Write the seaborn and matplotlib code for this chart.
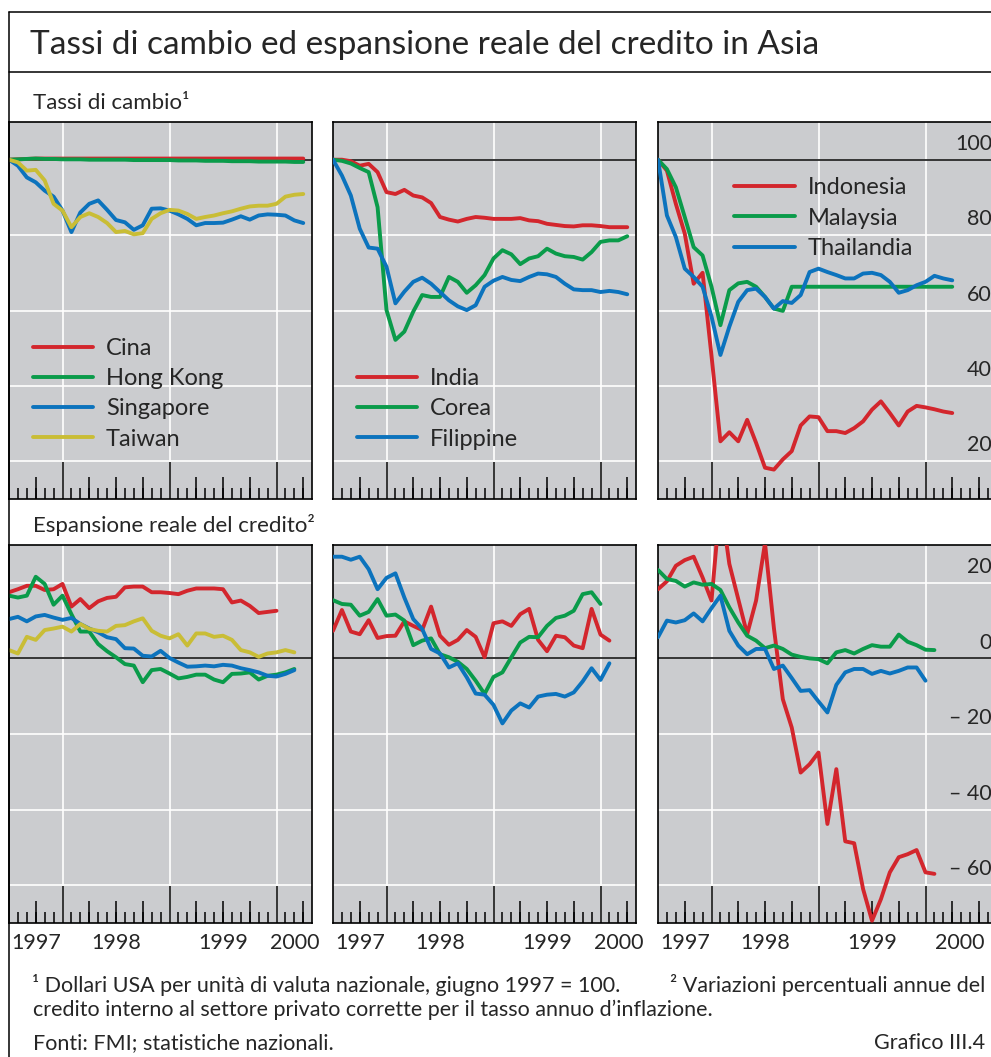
import numpy as np
import pandas as pd
import seaborn as sns
import matplotlib.pyplot as plt
from matplotlib.lines import Line2D
from matplotlib.transforms import blended_transform_factory as blend

sns.set_style("darkgrid", {"axes.facecolor": "#cbcccf", "grid.color": "white"})
plt.rcParams["font.family"] = ["Lato", "DejaVu Sans"]

START = 1997.5  # giugno 1997, primo dato mensile

# ---- Tassi di cambio (giugno 1997 = 100), dati mensili ----
cina_fx = [100.0, 100.1, 100.2, 100.3, 100.3, 100.3, 100.3, 100.3, 100.3, 100.3, 100.3, 100.3,
           100.3, 100.3, 100.3, 100.3, 100.3, 100.3, 100.3, 100.3, 100.3, 100.3, 100.3, 100.3,
           100.3, 100.3, 100.3, 100.3, 100.3, 100.3, 100.3, 100.3, 100.3, 100.3]
hk_fx = [100.0, 100.1, 100.2, 100.3, 100.2, 100.2, 100.1, 100.1, 100.1, 100.0, 100.0, 100.0,
         100.0, 100.0, 99.9, 99.9, 99.9, 99.9, 99.9, 99.8, 99.8, 99.8, 99.7, 99.7,
         99.7, 99.6, 99.6, 99.6, 99.5, 99.5, 99.5, 99.5, 99.4, 99.4]
sing_fx = [100, 98.4, 95.3, 94.0, 91.8, 90.2, 86.5, 80.8, 86.0, 88.3, 89.2, 86.7,
           84.0, 83.4, 81.4, 82.6, 87.0, 87.1, 86.5, 85.5, 84.3, 82.6, 83.2, 83.2,
           83.3, 84.1, 85.0, 84.1, 85.2, 85.5, 85.4, 85.2, 83.9, 83.2]
taiwan_fx = [100, 99.3, 97.1, 97.3, 94.5, 88.3, 86.5, 82.1, 84.8, 85.8, 84.8, 83.2,
             80.8, 81.1, 80.2, 80.5, 84.3, 85.8, 86.7, 86.5, 85.6, 84.3, 84.8, 85.2,
             85.8, 86.3, 87.0, 87.6, 87.8, 87.8, 88.3, 90.2, 90.7, 90.9]
india_fx = [100, 100, 99.6, 98.4, 98.9, 96.7, 91.4, 90.9, 92.0, 90.5, 90.0, 88.5,
            84.8, 84.1, 83.6, 84.3, 84.8, 84.6, 84.3, 84.3, 84.3, 84.5, 83.9, 83.7,
            83.0, 82.7, 82.4, 82.3, 82.6, 82.6, 82.4, 82.1, 82.1, 82.1]
corea_fx = [100, 99.7, 99.0, 97.8, 96.7, 87.4, 60.1, 52.2, 54.4, 59.7, 64.1, 63.6,
            63.6, 68.9, 67.6, 64.7, 66.7, 69.4, 73.8, 76.0, 74.9, 72.3, 73.8, 74.4,
            76.4, 75.1, 74.4, 74.2, 73.5, 75.5, 78.2, 78.6, 78.6, 79.7]
filip_fx = [100, 95.8, 90.5, 81.7, 76.7, 76.4, 71.6, 61.9, 65.0, 67.6, 68.7, 67.1,
            64.9, 62.7, 61.1, 60.1, 61.4, 66.3, 67.9, 68.9, 68.1, 67.8, 68.9, 69.8,
            69.6, 68.9, 67.1, 65.6, 65.4, 65.4, 64.9, 65.2, 64.9, 64.3]
indo_fx = [100, 97.1, 88.3, 80.4, 67.1, 70.0, 48.0, 25.3, 27.7, 25.3, 31.0, 24.9,
           18.3, 17.8, 20.5, 22.7, 29.5, 31.9, 31.7, 28.0, 28.0, 27.5, 28.8, 30.6,
           33.7, 35.9, 32.8, 29.5, 33.2, 34.7, 34.3, 33.8, 33.2, 32.8]
malay_fx = [100, 97.5, 92.7, 84.8, 76.8, 74.6, 66.3, 56.1, 65.4, 67.2, 67.6, 66.3,
            63.6, 60.5, 59.9, 66.3, 66.3, 66.3, 66.3, 66.3, 66.3, 66.3, 66.3, 66.3,
            66.3, 66.3, 66.3, 66.3, 66.3, 66.3, 66.3, 66.3, 66.3, 66.3]
thai_fx = [100, 85.2, 79.5, 71.1, 68.9, 66.3, 58.4, 48.2, 55.7, 62.3, 65.4, 65.8,
           63.6, 60.5, 62.5, 62.0, 64.1, 70.2, 71.1, 70.2, 69.4, 68.5, 68.5, 69.8,
           70.0, 69.4, 67.6, 64.7, 65.4, 66.7, 67.6, 69.2, 68.5, 68.0]

# ---- Espansione reale del credito (variazioni % annue) ----
cina_cr = [17.5, 18.3, 19.2, 19.2, 18.1, 18.3, 19.7, 13.7, 15.7, 13.3, 15.1, 16.0,
           16.3, 18.8, 19.0, 19.0, 17.5, 17.5, 17.3, 17.0, 17.9, 18.5, 18.5, 18.5,
           18.3, 14.8, 15.3, 13.9, 12.0, 12.3, 12.6]
hk_cr = [16.6, 16.1, 16.6, 21.6, 19.7, 14.2, 16.6, 11.7, 7.1, 7.1, 3.8, 1.9,
         0.3, -1.5, -1.9, -6.3, -3.1, -2.8, -4.0, -5.3, -4.9, -4.3, -4.3, -5.6,
         -6.3, -4.1, -4.0, -3.7, -5.6, -4.6, -4.3, -3.7, -2.8]
sing_cr = [10.4, 11.0, 9.8, 11.1, 11.5, 10.8, 10.2, 10.7, 9.1, 7.9, 6.9, 5.6,
           5.1, 2.7, 2.6, 0.7, 0.5, 2.0, 0.1, -1.1, -2.2, -2.1, -1.9, -2.1,
           -1.7, -1.9, -2.6, -3.1, -3.7, -4.6, -4.8, -4.1, -3.1]
taiwan_cr = [2.2, 1.3, 5.7, 4.9, 7.5, 7.9, 8.4, 7.1, 9.1, 7.8, 7.3, 7.1,
             8.6, 8.8, 9.8, 10.6, 7.3, 6.0, 5.3, 6.4, 3.4, 6.6, 6.6, 5.7,
             6.0, 4.9, 2.2, 1.6, 0.4, 1.3, 1.6, 2.2, 1.6]
india_cr = [7.3, 12.8, 7.1, 6.4, 10.1, 5.4, 5.9, 6.0, 9.8, 8.6, 7.5, 13.7,
            6.0, 3.6, 4.9, 7.5, 5.7, 0.3, 9.3, 9.8, 8.6, 11.7, 13.1, 4.9,
            1.9, 6.0, 5.6, 3.4, 2.7, 13.1, 6.3, 4.7]
corea_cr = [15.4, 14.4, 14.2, 11.3, 12.3, 15.7, 11.3, 11.6, 10.0, 3.5, 4.7, 5.3,
            1.1, 0.3, -0.9, -2.8, -5.9, -9.4, -4.9, -3.7, 0.3, 4.2, 5.7, 5.6,
            8.6, 10.7, 11.3, 12.6, 17.0, 17.5, 14.4]
filip_cr = [26.9, 26.9, 26.1, 26.9, 23.6, 18.3, 21.3, 22.5, 16.1, 10.4, 7.8, 2.5,
            1.3, -2.4, -1.3, -5.0, -9.3, -9.6, -12.3, -17.2, -13.8, -11.9, -13.0, -10.1,
            -9.6, -9.4, -10.1, -9.0, -6.1, -2.6, -5.7, -1.3]
indo_cr = [18.3, 20.4, 24.5, 26.0, 26.9, 21.4, 15.3, 42.0, 25.0, 15.7, 6.4, 15.3,
           30.5, 8.0, -10.8, -18.3, -30.2, -28.0, -24.9, -43.8, -29.3, -48.4, -48.9, -61.0,
           -69.4, -63.7, -56.6, -52.6, -51.8, -50.7, -56.6, -57.0]
malay_cr = [23.4, 21.0, 20.5, 19.0, 20.1, 19.5, 19.7, 18.1, 13.5, 9.5, 6.0, 4.7,
            2.7, 3.4, 2.5, 1.0, 0.4, 0.0, -0.2, -1.3, 1.6, 2.2, 1.3, 2.5,
            3.5, 3.1, 3.1, 6.3, 4.4, 3.5, 2.3, 2.2]
thai_cr = [5.6, 10.0, 9.5, 10.1, 11.9, 9.8, 13.3, 16.6, 7.3, 3.4, 1.1, 2.5,
           2.5, -2.8, -1.9, -5.2, -8.6, -8.4, -11.4, -14.3, -7.0, -3.7, -2.8, -2.8,
           -4.1, -3.3, -4.0, -3.3, -2.4, -2.4, -5.9]

years = [1997, 1998, 1999, 2000]
fx_ticks = [20, 40, 60, 80, 100]
fx_labels = ["20", "40", "60", "80", "100"]
cr_ticks = [-60, -40, -20, 0, 20]
cr_labels = ["\u2013 60", "\u2013 40", "\u2013 20", "0", "20"]

RED, GREEN, BLUE, YELLOW = "#d3262d", "#0a9b4a", "#0c73bd", "#c9bd36"

W, H = 991, 1057
fig = plt.figure(figsize=(W / 100, H / 100), dpi=100)


def box(x0, y0, w, h):
    return [x0 / W, 1 - (y0 + h) / H, w / W, h / H]


def long_df(series):
    rows = []
    for name, vals in series.items():
        for i, v in enumerate(vals):
            rows.append((START + i / 12, v, name))
    return pd.DataFrame(rows, columns=["t", "v", "paese"])


def panel(rect, series, colors, ylim, yticks, ref, xmax, leg=None, ylabels=None, show_years=False):
    ax = fig.add_axes(rect)
    df = long_df(series)
    sns.lineplot(data=df, x="t", y="v", hue="paese", palette=colors, linewidth=2.8,
                 errorbar=None, legend=leg is not None, ax=ax, zorder=3)
    ax.axhline(ref, color="black", lw=1.1, zorder=2.5)
    ax.set_xlim(START, xmax)
    ax.set_ylim(*ylim)
    ax.set_xlabel("")
    ax.set_ylabel("")
    ax.set_yticks(yticks)
    ax.set_xticks([y for y in years if START < y < xmax])
    ax.set_xticks(np.arange(START + 1 / 12, xmax, 1 / 12), minor=True)
    ax.tick_params(axis="x", which="major", direction="in", length=27, width=1.1,
                   color="black", labelbottom=False, bottom=True)
    ax.tick_params(axis="x", which="minor", direction="in", length=8, width=1.1,
                   color="black", bottom=True)
    ax.tick_params(axis="y", length=0, labelleft=False)
    ax.grid(True, which="major", color="white", lw=1.2)
    ax.grid(False, which="minor")
    for s in ax.spines.values():
        s.set_visible(True)
        s.set_color("black")
        s.set_linewidth(1.2)

    # tacche trimestrali di media lunghezza
    sec = ax.secondary_xaxis("bottom")
    quarters = [q for q in np.arange(1997.75, xmax, 0.25) if q % 1 != 0]
    sec.set_xticks(quarters)
    sec.tick_params(direction="in", length=16, width=1.1, color="black", labelbottom=False)
    sec.spines["bottom"].set_visible(False)
    sec.grid(False)

    if leg is not None:
        h, l = ax.get_legend_handles_labels()
        ax.legend(h, l, loc="upper left", bbox_to_anchor=leg, frameon=False, fontsize=17,
                  handlelength=2.55, handletextpad=0.55, labelspacing=0.39, borderpad=0,
                  borderaxespad=0)

    if ylabels is not None:
        tr = blend(ax.transAxes, ax.transData)
        for v, lab in zip(yticks, ylabels):
            ax.text(0.997, v + 4.2, lab, transform=tr, ha="right", va="center", fontsize=15.5)

    if show_years:
        tr = blend(ax.transData, ax.transAxes)
        for y in years:
            lo, hi = max(y, START), min(y + 1, xmax)
            ax.text((lo + hi) / 2, -0.052, str(y), transform=tr, ha="center", va="center",
                    fontsize=15.5)
    return ax


XMAX_S = START + 303 / 107
XMAX_L = START + 335 / 107

panel(box(9, 122, 303, 377), {"Cina": cina_fx, "Hong Kong": hk_fx, "Singapore": sing_fx, "Taiwan": taiwan_fx},
      {"Cina": RED, "Hong Kong": GREEN, "Singapore": BLUE, "Taiwan": YELLOW},
      (10, 110), fx_ticks, 100, XMAX_S, leg=(0.078, 0.427))
panel(box(333, 122, 303, 377), {"India": india_fx, "Corea": corea_fx, "Filippine": filip_fx},
      {"India": RED, "Corea": GREEN, "Filippine": BLUE},
      (10, 110), fx_ticks, 100, XMAX_S, leg=(0.078, 0.347))
panel(box(658, 122, 335, 377), {"Indonesia": indo_fx, "Malaysia": malay_fx, "Thailandia": thai_fx},
      {"Indonesia": RED, "Malaysia": GREEN, "Thailandia": BLUE},
      (10, 110), fx_ticks, 100, XMAX_L, leg=(0.228, 0.853), ylabels=fx_labels)

panel(box(9, 545, 303, 378), {"Cina": cina_cr, "Hong Kong": hk_cr, "Singapore": sing_cr, "Taiwan": taiwan_cr},
      {"Cina": RED, "Hong Kong": GREEN, "Singapore": BLUE, "Taiwan": YELLOW},
      (-70, 30), cr_ticks, 0, XMAX_S, show_years=True)
panel(box(333, 545, 303, 378), {"India": india_cr, "Corea": corea_cr, "Filippine": filip_cr},
      {"India": RED, "Corea": GREEN, "Filippine": BLUE},
      (-70, 30), cr_ticks, 0, XMAX_S, show_years=True)
panel(box(658, 545, 335, 378), {"Indonesia": indo_cr, "Malaysia": malay_cr, "Thailandia": thai_cr},
      {"Indonesia": RED, "Malaysia": GREEN, "Thailandia": BLUE},
      (-70, 30), cr_ticks, 0, XMAX_L, ylabels=cr_labels, show_years=True)

# cornice e testi
for xs, ys in [([9 / W, 1], [1 - 12 / H] * 2), ([9 / W, 1], [1 - 72 / H] * 2), ([9 / W] * 2, [1 - 12 / H, 0])]:
    fig.add_artist(Line2D(xs, ys, transform=fig.transFigure, color="black", lw=1.1))

fig.text(30 / W, 1 - 45 / H, "Tassi di cambio ed espansione reale del credito in Asia",
         fontsize=24, va="center")
fig.text(33 / W, 1 - 103 / H, "Tassi di cambio\u00b9", fontsize=16, va="center")
fig.text(33 / W, 1 - 525 / H, "Espansione reale del credito\u00b2", fontsize=16, va="center")
fig.text(32 / W, 1 - 985 / H,
         "\u00b9 Dollari USA per unit\u00e0 di valuta nazionale, giugno 1997 = 100.",
         fontsize=15.5, va="center")
fig.text(985 / W, 1 - 985 / H, "\u00b2 Variazioni percentuali annue del",
         fontsize=15.5, va="center", ha="right")
fig.text(33 / W, 1 - 1010 / H,
         "credito interno al settore privato corrette per il tasso annuo d\u2019inflazione.",
         fontsize=15.5, va="center")
fig.text(33 / W, 1 - 1043 / H, "Fonti: FMI; statistiche nazionali.", fontsize=15.5, va="center")
fig.text(985 / W, 1 - 1043 / H, "Grafico III.4", fontsize=15.5, va="center", ha="right")

fig.savefig("out.png", dpi=100)
